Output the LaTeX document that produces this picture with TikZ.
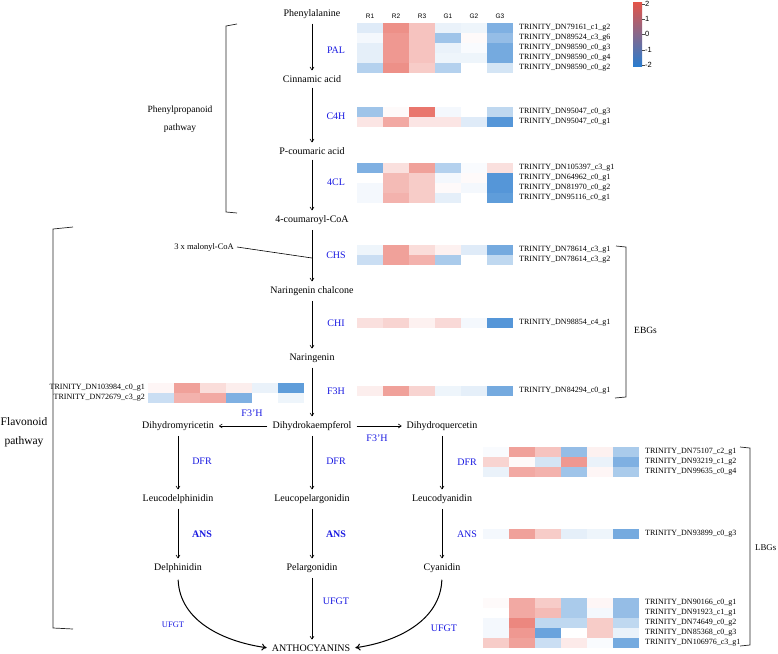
\documentclass[tikz,border=0pt]{standalone}
\usepackage{fontspec}
\setmainfont{Liberation Serif}
\setsansfont{Liberation Sans}
\usetikzlibrary{arrows.meta}
\usetikzlibrary{positioning}

\definecolor{hmred}{RGB}{228,84,72}
\definecolor{hmblue}{RGB}{42,124,206}
\definecolor{enz}{RGB}{25,25,225}

\tikzset{
	cpd/.style={font=\fontsize{10}{11}\selectfont,inner sep=3pt},
	enzyme/.style={font=\fontsize{10}{12}\selectfont,text=enz,inner sep=1pt},
	gene/.style={font=\fontsize{8}{9}\selectfont,inner sep=0pt},
	hdr/.style={font=\sffamily\fontsize{6.5}{7}\selectfont,inner sep=0pt},
	grp/.style={font=\fontsize{9.5}{10}\selectfont,inner sep=0pt},
	arr/.style={-{To[length=3.5pt,width=4.5pt]},line width=0.6pt,shorten >=2pt,shorten <=2pt},
	bigarr/.style={arr,line width=1pt,-{To[length=5pt,width=7pt]}},
	brk/.style={line width=0.7pt,black!85},
}

% one heatmap row: name, x, y, values (percent, minus = blue), gene label
\newcommand{\hmrow}[5]{%
	\foreach \v [count=\i] in {#4}{%
		\ifnum\v<0 \pgfmathtruncatemacro\pc{-\v}\edef\hmc{hmblue!\pc!white}\else\edef\hmc{hmred!\v!white}\fi
		\fill[fill=\hmc] ({#2+(\i-1)*26},{#3}) rectangle ++(26,10);
	}
	\node[gene,anchor=west] (#1) at ({#2+162},{#3+5}) {#5};
}
% same, label on the left
\newcommand{\hmrowl}[5]{%
	\foreach \v [count=\i] in {#4}{%
		\ifnum\v<0 \pgfmathtruncatemacro\pc{-\v}\edef\hmc{hmblue!\pc!white}\else\edef\hmc{hmred!\v!white}\fi
		\fill[fill=\hmc] ({#2+(\i-1)*26},{#3}) rectangle ++(26,10);
	}
	\node[gene,anchor=east] (#1) at ({#2-3},{#3+5}) {#5};
}

\begin{document}
\begin{tikzpicture}[x=1pt,y=-1pt]
	\useasboundingbox (0,0) rectangle (778,653);

	% Place nodes
	\node[cpd] (phe) at (312,14) {Phenylalanine};
	\node[cpd] (cin) at (312,79) {Cinnamic acid};
	\node[cpd] (pcou) at (312,151) {P-coumaric acid};
	\node[cpd] (coa) at (312,220) {4-coumaroyl-CoA};
	\node[cpd] (chal) at (312,291) {Naringenin chalcone};
	\node[cpd] (nar) at (312,358) {Naringenin};
	\node[cpd] (dhk) at (312,426) {Dihydrokaempferol};
	\node[cpd] (dhm) at (178,426) {Dihydromyricetin};
	\node[cpd] (dhq) at (442,426) {Dihydroquercetin};
	\node[cpd] (ldel) at (178,499) {Leucodelphinidin};
	\node[cpd] (lpel) at (312,499) {Leucopelargonidin};
	\node[cpd] (lcya) at (442,499) {Leucodyanidin};
	\node[cpd] (del) at (178,568) {Delphinidin};
	\node[cpd] (pel) at (312,568) {Pelargonidin};
	\node[cpd] (cya) at (442,568) {Cyanidin};
	\node[cpd] (antho) at (311,648) {ANTHOCYANINS};
	\node[cpd,font=\fontsize{8.5}{10}\selectfont,anchor=east] (malo) at (237,247) {3 x malonyl-CoA};
	\coordinate (join) at (312,258);

	% enzymes
	\node[enzyme] (pal) at (336,50) {PAL};
	\node[enzyme] (c4h) at (336,116) {C4H};
	\node[enzyme] (fcl) at (336,182) {4CL};
	\node[enzyme] (chs) at (336,255) {CHS};
	\node[enzyme] (chi) at (336,323) {CHI};
	\node[enzyme] (f3h) at (336,391) {F3H};
	\node[enzyme] (f3hl) at (252,413) {F3’H};
	\node[enzyme] (f3hr) at (377,438) {F3’H};
	\node[enzyme] (dfrl) at (202,461) {DFR};
	\node[enzyme] (dfrm) at (336,461) {DFR};
	\node[enzyme] (dfrr) at (467,462) {DFR};
	\node[enzyme,font=\bfseries\fontsize{10}{12}\selectfont] (ansl) at (202,534) {ANS};
	\node[enzyme,font=\bfseries\fontsize{10}{12}\selectfont] (ansm) at (336,534) {ANS};
	\node[enzyme] (ansr) at (467,534) {ANS};
	\node[enzyme] (ufgtm) at (336,601) {UFGT};
	\node[enzyme,font=\fontsize{8.5}{10}\selectfont] (ufgtl) at (173,625) {UFGT};
	\node[enzyme] (ufgtr) at (444,628) {UFGT};

	% arrows
	\draw[arr] (phe) -- (cin);
	\draw[arr] (cin) -- (pcou);
	\draw[arr] (pcou) -- (coa);
	\draw[arr] (coa) -- (chal);
	\draw[line width=0.6pt] (malo.east) -- (join);
	\draw[arr] (chal) -- (nar);
	\draw[arr] (nar) -- (dhk);
	\draw[arr] (dhk) -- (dhm);
	\draw[arr] (dhk) -- (dhq);
	\draw[arr] (dhm) -- (ldel);
	\draw[arr] (dhk) -- (lpel);
	\draw[arr] (dhq) -- (lcya);
	\draw[arr] (ldel) -- (del);
	\draw[arr] (lpel) -- (pel);
	\draw[arr] (lcya) -- (cya);
	\draw[arr] (pel.south) -- (pel.south |- antho.north);
	\draw[bigarr,shorten <=4pt] (del.south) to[out=-88,in=172] (antho.west);
	\draw[bigarr,shorten <=4pt] (cya.south) to[out=-92,in=8] (antho.east);

	% heatmap header
	\foreach \h [count=\k] in {R1,R2,R3,G1,G2,G3}
		\node[hdr] (hd\k) at ({357+13+(\k-1)*26},16) {\h};

	% heatmaps
	\hmrow{pal1}{357}{23}{-15,65,35,-10,-8,-60}{TRINITY\_DN79161\_c1\_g2}
	\hmrow{pal2}{357}{33}{-5,60,35,-45,3,-50}{TRINITY\_DN89524\_c3\_g6}
	\hmrow{pal3}{357}{43}{-12,60,35,-10,-3,-65}{TRINITY\_DN98590\_c0\_g3}
	\hmrow{pal4}{357}{53}{-12,60,35,-8,-8,-65}{TRINITY\_DN98590\_c0\_g4}
	\hmrow{pal5}{357}{63}{-35,65,30,-35,0,-20}{TRINITY\_DN98590\_c0\_g2}
	\hmrow{cfh1}{357}{107}{-45,3,80,-5,0,-30}{TRINITY\_DN95047\_c0\_g3}
	\hmrow{cfh2}{357}{117}{15,50,15,15,-15,-80}{TRINITY\_DN95047\_c0\_g1}
	\hmrow{fcl1}{357}{163}{-60,18,55,-35,-3,18}{TRINITY\_DN105397\_c3\_g1}
	\hmrow{fcl2}{357}{173}{0,40,30,-5,3,-80}{TRINITY\_DN64962\_c0\_g1}
	\hmrow{fcl3}{357}{183}{-5,40,30,3,-5,-80}{TRINITY\_DN81970\_c0\_g2}
	\hmrow{fcl4}{357}{193}{-5,45,30,-12,0,-75}{TRINITY\_DN95116\_c0\_g1}
	\hmrow{chs1}{357}{245}{-8,55,20,8,-15,-65}{TRINITY\_DN78614\_c3\_g1}
	\hmrow{chs2}{357}{255}{-25,55,45,-40,0,-30}{TRINITY\_DN78614\_c3\_g2}
	\hmrow{chi1}{357}{318}{18,25,8,22,-5,-80}{TRINITY\_DN98854\_c4\_g1}
	\hmrow{fth1}{357}{386}{10,55,25,-8,-12,-65}{TRINITY\_DN84294\_c0\_g1}
	\hmrowl{ftp1}{148}{383}{5,55,20,10,-10,-75}{TRINITY\_DN103984\_c0\_g1}
	\hmrowl{ftp2}{148}{393}{-25,45,50,-60,0,-8}{TRINITY\_DN72679\_c3\_g2}
	\hmrow{dfr1}{483}{447}{-3,55,35,-50,8,-40}{TRINITY\_DN75107\_c2\_g1}
	\hmrow{dfr2}{483}{457}{25,3,-20,60,-10,-60}{TRINITY\_DN93219\_c1\_g2}
	\hmrow{dfr3}{483}{467}{-10,50,45,-45,5,-40}{TRINITY\_DN99635\_c0\_g4}
	\hmrow{ans1}{483}{529}{-5,55,30,-12,-8,-65}{TRINITY\_DN93899\_c0\_g3}
	\hmrow{ufg1}{483}{598}{3,50,30,-40,5,-50}{TRINITY\_DN90166\_c0\_g1}
	\hmrow{ufg2}{483}{608}{0,50,40,-40,-5,-50}{TRINITY\_DN91923\_c1\_g1}
	\hmrow{ufg3}{483}{618}{-5,70,-30,-30,30,-30}{TRINITY\_DN74649\_c0\_g2}
	\hmrow{ufg4}{483}{628}{-5,60,-70,0,30,-10}{TRINITY\_DN85368\_c0\_g3}
	\hmrow{ufg5}{483}{638}{30,55,-25,12,-3,-65}{TRINITY\_DN106976\_c3\_g1}

	% colour key
	\shade[top color=hmred,middle color=white,bottom color=hmblue] (633,2) rectangle (642,66);
	\foreach \t/\yy in {2/4,1/19,0/34,-1/50,-2/65}{
		\draw[black!70,line width=0.4pt] (642,\yy) -- (644.5,\yy);
		\node[hdr,font=\sffamily\fontsize{7.5}{8}\selectfont,anchor=west] (key\t) at (645,\yy) {\t};
	}

	% brackets
	\draw[brk] (237,24) -- (226,26) -- (226,212) -- (237,213);
	\draw[brk] (73,227) -- (53,229) -- (53,628) -- (73,629);
	\draw[brk] (616,246) -- (626,247) -- (626,397) -- (615,398);
	\draw[brk] (740,447) -- (750,448) -- (750,645) -- (740,646);
	\node[grp] (php1) at (180,110) {Phenylpropanoid};
	\node[grp] (php2) at (180,128) {pathway};
	\node[grp,font=\fontsize{11.5}{13}\selectfont] (flv1) at (24,422) {Flavonoid};
	\node[grp,font=\fontsize{11.5}{13}\selectfont] (flv2) at (24,442) {pathway};
	\node[grp,anchor=west] (ebg) at (634,330) {EBGs};
	\node[grp,font=\fontsize{8.8}{10}\selectfont,anchor=west] (lbg) at (755,548) {LBGs};
\end{tikzpicture}
\end{document}
